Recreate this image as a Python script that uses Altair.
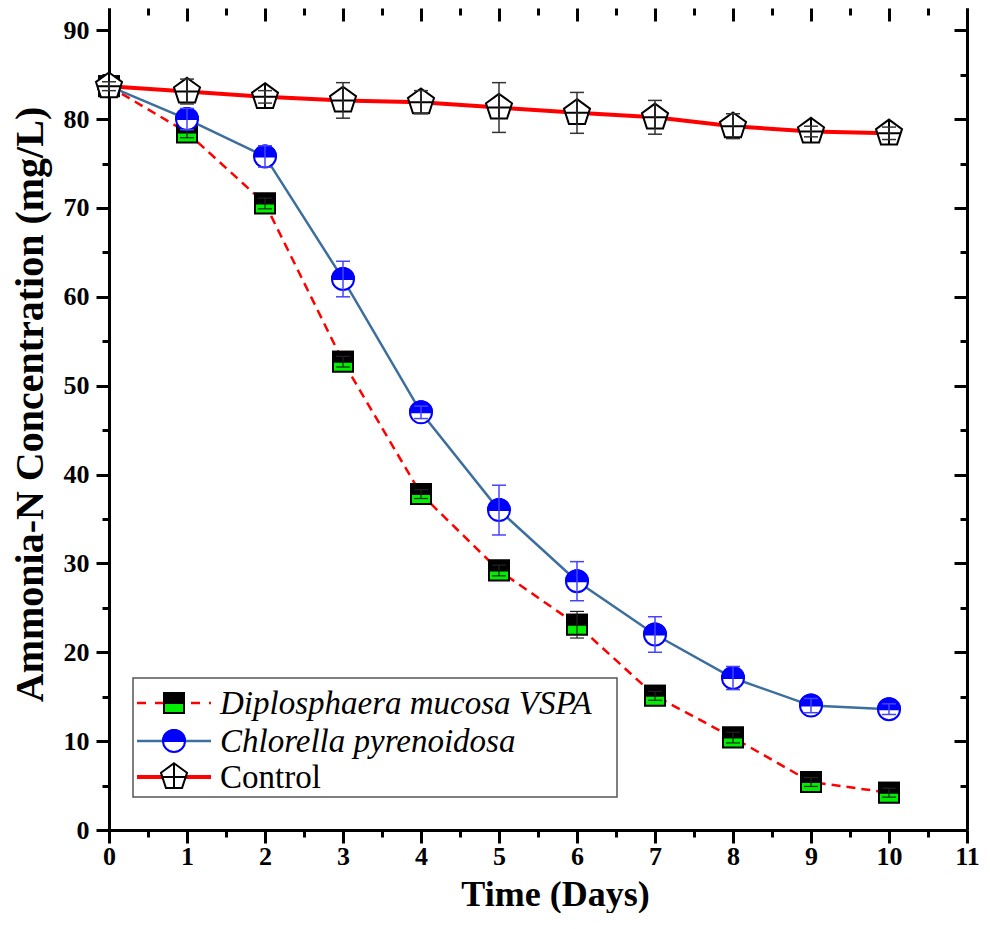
import altair as alt
import pandas as pd

# ---------------- data ----------------
days = [0, 1, 2, 3, 4, 5, 6, 7, 8, 9, 10]
diplo = [83.7, 78.5, 70.5, 52.7, 37.8, 29.2, 23.1, 15.1, 10.4, 5.4, 4.2]
diplo_err = [0.5, 0.6, 0.6, 0.6, 0.5, 0.6, 1.5, 0.5, 0.6, 0.5, 0.5]
chlor = [83.7, 80.0, 75.8, 62.0, 47.0, 36.0, 28.0, 22.0, 17.1, 14.0, 13.6]
chlor_err = [0.5, 1.2, 1.2, 2.0, 0.7, 2.8, 2.2, 2.0, 1.3, 0.8, 0.6]
control = [83.7, 83.1, 82.5, 82.1, 81.9, 81.3, 80.7, 80.2, 79.2, 78.6, 78.4]
control_err = [0.5, 1.4, 0.7, 2.0, 1.3, 2.8, 2.3, 1.9, 1.4, 0.6, 0.7]

series_names = ["Diplosphaera mucosa VSPA", "Chlorella pyrenoidosa", "Control"]
x_major = list(range(0, 12))
x_minor = [i + 0.5 for i in range(0, 11)]
y_major = list(range(0, 91, 10))
y_minor = list(range(5, 90, 10))

FONT = "'Liberation Serif', 'Times New Roman', Times, serif"
W, H = 858, 822

def frame(vals, errs):
    return pd.DataFrame({"day": days, "v": vals,
                         "lo": [a - b for a, b in zip(vals, errs)],
                         "hi": [a + b for a, b in zip(vals, errs)]})

df_d = frame(diplo, diplo_err)
df_c = frame(chlor, chlor_err)
df_k = frame(control, control_err)
one = pd.DataFrame({"a": [0]})

xscale = alt.Scale(domain=[0, 11], nice=False, zero=False)
yscale = alt.Scale(domain=[0, 92.5], nice=False, zero=False)

def X(field="day", axis=None):
    return alt.X(f"{field}:Q", scale=xscale, axis=axis)

def Y(field="v", axis=None):
    return alt.Y(f"{field}:Q", scale=yscale, axis=axis)

# ---------------- shapes ----------------
SQ_FULL = "M -1 -1 L 1 -1 L 1 1 L -1 1 Z"
SQ_TOP = "M -1 -1 L 1 -1 L 1 0 L -1 0 Z"
CI_FULL = "M -1 0 A 1 1 0 1 1 1 0 A 1 1 0 1 1 -1 0 Z"
CI_TOP = "M -1 0 A 1 1 0 0 1 1 0 Z"
PENT = ("M 0 -1 L 0.951 -0.309 L 0.588 0.809 L -0.588 0.809 L -0.951 -0.309 Z "
        "M 0 -1 L 0 0.809 M -0.85 0 L 0.85 0")

RED = "#ff0000"
BLUE_LINE = "#3c6e9e"
BLUE = "#0000ff"
GREEN = "#00ee00"

def marker(df, shape, size, fill, stroke, sw=2):
    return alt.Chart(df).mark_point(shape=shape, size=size, filled=True, fill=fill,
                                    stroke=stroke, strokeWidth=sw, opacity=1,
                                    fillOpacity=1, strokeOpacity=1).encode(x=X(), y=Y())

def errbars(df, color, sw=1.5):
    r = alt.Chart(df).mark_rule(color=color, strokeWidth=sw).encode(x=X(), y=Y("lo"), y2="hi")
    t1 = alt.Chart(df).mark_tick(orient="horizontal", size=14, thickness=sw, color=color,
                                 opacity=1).encode(x=X(), y=Y("lo"))
    t2 = alt.Chart(df).mark_tick(orient="horizontal", size=14, thickness=sw, color=color,
                                 opacity=1).encode(x=X(), y=Y("hi"))
    return [r, t1, t2]

# ---------------- axes layers ----------------
common = dict(grid=False, domainColor="black", tickColor="black", tickWidth=3,
              domainWidth=3, labelColor="black")
ax_x = [
    alt.Axis(orient="bottom", values=x_major, tickSize=13, labelFont=FONT, labelFontSize=26,
             labelFontWeight="bold", labelPadding=0, labelFlush=False, labelOverlap=False,
             title="Time (Days)", titleFont=FONT, titleFontSize=36, titleFontWeight="bold",
             titleColor="black", titleX=446, titleY=75, titleBaseline="alphabetic",
             titleAlign="center", **common),
    alt.Axis(orient="bottom", values=x_minor, tickSize=7, domain=False, labels=False,
             title=None, **common),
    alt.Axis(orient="top", offset=-13, values=x_major, tickSize=13, domain=False,
             labels=False, title=None, **common),
    alt.Axis(orient="top", offset=-7, values=x_minor, tickSize=7, domain=False,
             labels=False, title=None, **common),
    None,
]
ax_y = [
    alt.Axis(orient="left", values=y_major, tickSize=13, labelFont=FONT, labelFontSize=26,
             labelFontWeight="bold", labelPadding=7, labelFlush=False, labelOverlap=False,
             title="Ammonia-N Concentration (mg/L)", titleFont=FONT, titleFontSize=40,
             titleFontWeight="bold", titleColor="black", titleAngle=270, titleX=-79,
             titleY=396, titleBaseline="middle", titleAlign="center", **common),
    alt.Axis(orient="left", values=y_minor, tickSize=7, domain=False, labels=False,
             title=None, **common),
    alt.Axis(orient="right", values=y_major, ticks=False, labels=False, title=None, **common),
    alt.Axis(orient="right", offset=-13, values=y_major, tickSize=13, domain=False,
             labels=False, title=None, **common),
    alt.Axis(orient="right", offset=-7, values=y_minor, tickSize=7, domain=False,
             labels=False, title=None, **common),
]
axis_layers = [
    alt.Chart(df_k).mark_point(opacity=0).encode(x=X(axis=ax_x[i]), y=Y(axis=ax_y[i]))
    for i in range(5)
]

# ---------------- series ----------------
layers = list(axis_layers)

# Diplosphaera
layers.append(alt.Chart(df_d).mark_line(color=RED, strokeDash=[9, 6], strokeWidth=2.5,
                                        interpolate="linear").encode(x=X(), y=Y()))
layers.append(marker(df_d, SQ_FULL, 400, GREEN, "black"))
layers.append(marker(df_d, SQ_TOP, 400, "black", "black"))
layers += errbars(df_d, "#222222", 1.2)

# Chlorella
layers.append(alt.Chart(df_c).mark_line(color=BLUE_LINE, strokeWidth=2.5,
                                        interpolate="linear").encode(x=X(), y=Y()))
layers.append(marker(df_c, CI_FULL, 484, "white", BLUE))
layers.append(marker(df_c, CI_TOP, 484, BLUE, BLUE))
layers += errbars(df_c, "#4444ff", 1.5)

# Control
layers.append(alt.Chart(df_k).mark_line(color=RED, strokeWidth=4).encode(x=X(), y=Y()))
layers.append(marker(df_k, PENT, 750, "white", "black"))
layers += errbars(df_k, "#333333", 1.5)

# ---------------- legend ----------------
LX0, LX1, LY0, LY1 = 24, 508, 670, 789
rows = [695, 733, 769]
layers.append(alt.Chart(one).mark_rect(fill="white", stroke="#555555", strokeWidth=1.5).encode(
    x=alt.value(LX0), x2=alt.value(LX1), y=alt.value(LY0), y2=alt.value(LY1)))
layers.append(alt.Chart(one).mark_rule(color=RED, strokeWidth=2.5, strokeDash=[9, 9]).encode(
    x=alt.value(28), x2=alt.value(102), y=alt.value(rows[0])))
layers.append(alt.Chart(one).mark_rule(color=BLUE_LINE, strokeWidth=2.5).encode(
    x=alt.value(28), x2=alt.value(102), y=alt.value(rows[1])))
layers.append(alt.Chart(one).mark_rule(color=RED, strokeWidth=4).encode(
    x=alt.value(28), x2=alt.value(102), y=alt.value(rows[2])))

def lmark(shape, size, fill, stroke, yy):
    return alt.Chart(one).mark_point(shape=shape, size=size, filled=True, fill=fill,
                                     stroke=stroke, strokeWidth=2, opacity=1,
                                     fillOpacity=1).encode(x=alt.value(65), y=alt.value(yy))

layers.append(lmark(SQ_FULL, 400, GREEN, "black", rows[0]))
layers.append(lmark(SQ_TOP, 400, "black", "black", rows[0]))
layers.append(lmark(CI_FULL, 484, "white", BLUE, rows[1]))
layers.append(lmark(CI_TOP, 484, BLUE, BLUE, rows[1]))
layers.append(lmark(PENT, 750, "white", "black", rows[2]))

styles = ["italic", "italic", "normal"]
for name, yy, st in zip(series_names, rows, styles):
    layers.append(alt.Chart(one).mark_text(align="left", baseline="middle", font=FONT,
                                           fontSize=33, fontStyle=st, color="black").encode(
        x=alt.value(111), y=alt.value(yy + 1), text=alt.value(name)))

chart = alt.layer(*layers).resolve_axis(x="independent", y="independent").properties(
    width=W, height=H,
    padding={"left": 101, "top": 0, "right": 15, "bottom": 83},
    autosize=alt.AutoSizeParams(type="none"),
    background="white",
).configure_view(stroke=None)

chart.save("out.html", embed_options={"renderer": "svg", "actions": False})
